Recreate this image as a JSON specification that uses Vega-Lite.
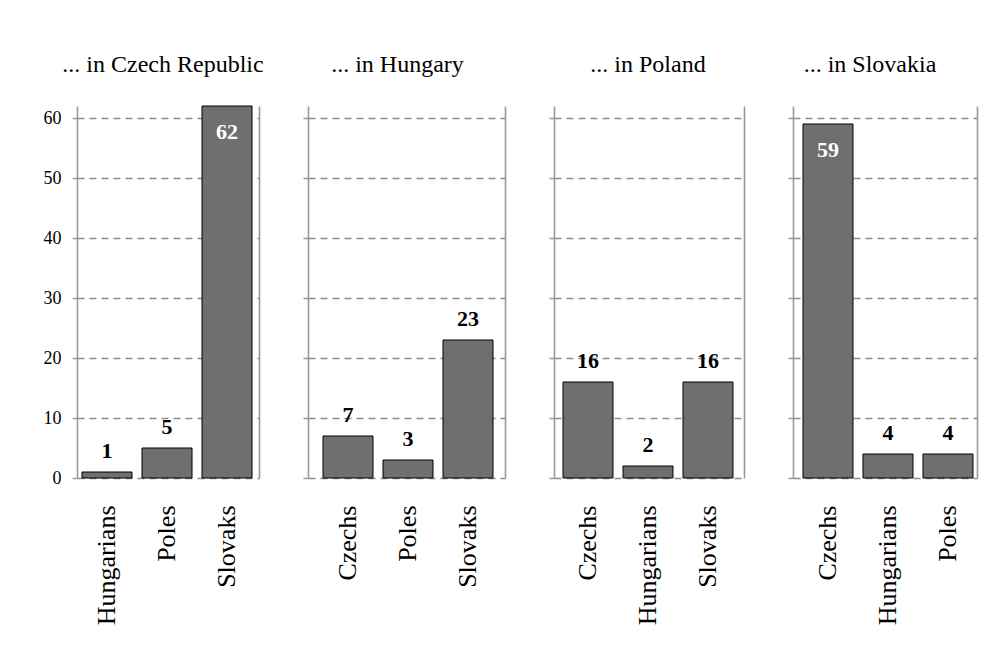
{
  "$schema": "https://vega.github.io/schema/vega-lite/v6.json",
  "padding": {"left": 43, "top": 52, "right": 5, "bottom": 5},
  "background": "white",
  "config": {
    "font": "Liberation Serif",
    "view": {"stroke": null},
    "title": {"font": "Liberation Serif", "fontSize": 24, "fontWeight": "normal", "color": "#000", "anchor": "middle", "baseline": "alphabetic", "offset": 29}
  },
  "data": {"values": [
    {"country": "Czech Republic", "group": "Hungarians", "value": 1},
    {"country": "Czech Republic", "group": "Poles", "value": 5},
    {"country": "Czech Republic", "group": "Slovaks", "value": 62},
    {"country": "Hungary", "group": "Czechs", "value": 7},
    {"country": "Hungary", "group": "Poles", "value": 3},
    {"country": "Hungary", "group": "Slovaks", "value": 23},
    {"country": "Poland", "group": "Czechs", "value": 16},
    {"country": "Poland", "group": "Hungarians", "value": 2},
    {"country": "Poland", "group": "Slovaks", "value": 16},
    {"country": "Slovakia", "group": "Czechs", "value": 59},
    {"country": "Slovakia", "group": "Hungarians", "value": 4},
    {"country": "Slovakia", "group": "Poles", "value": 4}
  ]},
  "bounds": "flush",
  "spacing": 49,
  "resolve": {"scale": {"x": "independent", "y": "independent"}},
  "hconcat": [
    {
      "width": 182, "height": 372,
      "title": {"text": "... in Czech Republic", "dx": -5},
      "transform": [{"filter": "datum.country === 'Czech Republic'"}],
      "encoding": {
        "x": {"field": "group", "type": "nominal", "scale": {"paddingInner": 0.16667, "paddingOuter": 0.1, "align": 0.4167},
          "axis": {"orient": "bottom", "domain": false, "ticks": false, "grid": false, "labelAngle": -90, "labelFont": "Liberation Serif", "labelFontSize": 26, "labelColor": "#000", "labelPadding": 27, "title": null}}
      },
      "layer": [
        {"mark": {"type": "bar", "fill": "#6f6f6f", "stroke": "#000", "strokeWidth": 1},
         "encoding": {"y": {"field": "value", "type": "quantitative", "scale": {"domain": [0, 62], "nice": false},
           "axis": {"orient": "left", "values": [0, 10, 20, 30, 40, 50, 60], "domainColor": "#999", "domainWidth": 1.6, "tickColor": "#999", "tickSize": 5, "tickWidth": 1.5, "labelFont": "Liberation Serif", "labelFontSize": 18, "labelColor": "#000", "labelPadding": 11, "grid": true, "gridColor": "#8c8c8c", "gridDash": [7, 5], "gridWidth": 1.3, "title": null}}}},
        {"transform": [{"filter": "datum.value < 40"}],
         "mark": {"type": "text", "baseline": "alphabetic", "dy": -14, "fontWeight": "bold", "fontSize": 22, "font": "Liberation Serif", "fill": "#000"},
         "encoding": {"y": {"field": "value", "type": "quantitative", "axis": null}, "text": {"field": "value", "type": "quantitative"}}},
        {"transform": [{"filter": "datum.value >= 40"}],
         "mark": {"type": "text", "baseline": "alphabetic", "dy": 33, "fontWeight": "bold", "fontSize": 22, "font": "Liberation Serif", "fill": "#fff"},
         "encoding": {"y": {"field": "value", "type": "quantitative", "axis": {"orient": "right", "domain": true, "domainColor": "#999", "domainWidth": 1.6, "ticks": false, "labels": false, "grid": false, "title": null}}, "text": {"field": "value", "type": "quantitative"}}}
      ],
      "resolve": {"axis": {"y": "independent"}}
    },
    {
      "width": 197, "height": 372,
      "title": {"text": "... in Hungary", "dx": -9},
      "transform": [{"filter": "datum.country === 'Hungary'"}],
      "encoding": {
        "x": {"field": "group", "type": "nominal", "scale": {"paddingInner": 0.16667, "paddingOuter": 0.225, "align": 0.5556},
          "axis": {"orient": "bottom", "domain": false, "ticks": false, "grid": false, "labelAngle": -90, "labelFont": "Liberation Serif", "labelFontSize": 26, "labelColor": "#000", "labelPadding": 27, "title": null}}
      },
      "layer": [
        {"mark": {"type": "bar", "fill": "#6f6f6f", "stroke": "#000", "strokeWidth": 1},
         "encoding": {"y": {"field": "value", "type": "quantitative", "scale": {"domain": [0, 62], "nice": false},
           "axis": {"orient": "left", "values": [0, 10, 20, 30, 40, 50, 60], "domainColor": "#999", "domainWidth": 1.6, "tickColor": "#999", "tickSize": 5, "tickWidth": 1.5, "labels": false, "grid": true, "gridColor": "#8c8c8c", "gridDash": [7, 5], "gridWidth": 1.3, "title": null}}}},
        {"transform": [{"filter": "datum.value < 40"}],
         "mark": {"type": "text", "baseline": "alphabetic", "dy": -14, "fontWeight": "bold", "fontSize": 22, "font": "Liberation Serif", "fill": "#000"},
         "encoding": {"y": {"field": "value", "type": "quantitative", "axis": null}, "text": {"field": "value", "type": "quantitative"}}},
        {"transform": [{"filter": "datum.value >= 40"}],
         "mark": {"type": "text", "baseline": "alphabetic", "dy": 33, "fontWeight": "bold", "fontSize": 22, "font": "Liberation Serif", "fill": "#fff"},
         "encoding": {"y": {"field": "value", "type": "quantitative", "axis": {"orient": "right", "domain": true, "domainColor": "#999", "domainWidth": 1.6, "ticks": false, "labels": false, "grid": false, "title": null}}, "text": {"field": "value", "type": "quantitative"}}}
      ],
      "resolve": {"axis": {"y": "independent"}}
    },
    {
      "width": 190, "height": 372,
      "title": {"text": "... in Poland", "dx": -1},
      "transform": [{"filter": "datum.country === 'Poland'"}],
      "encoding": {
        "x": {"field": "group", "type": "nominal", "scale": {"paddingInner": 0.16667, "paddingOuter": 0.16667, "align": 0.45},
          "axis": {"orient": "bottom", "domain": false, "ticks": false, "grid": false, "labelAngle": -90, "labelFont": "Liberation Serif", "labelFontSize": 26, "labelColor": "#000", "labelPadding": 27, "title": null}}
      },
      "layer": [
        {"mark": {"type": "bar", "fill": "#6f6f6f", "stroke": "#000", "strokeWidth": 1},
         "encoding": {"y": {"field": "value", "type": "quantitative", "scale": {"domain": [0, 62], "nice": false},
           "axis": {"orient": "left", "values": [0, 10, 20, 30, 40, 50, 60], "domainColor": "#999", "domainWidth": 1.6, "tickColor": "#999", "tickSize": 5, "tickWidth": 1.5, "labels": false, "grid": true, "gridColor": "#8c8c8c", "gridDash": [7, 5], "gridWidth": 1.3, "title": null}}}},
        {"transform": [{"filter": "datum.value < 40"}],
         "mark": {"type": "text", "baseline": "alphabetic", "dy": -14, "fontWeight": "bold", "fontSize": 22, "font": "Liberation Serif", "fill": "#000"},
         "encoding": {"y": {"field": "value", "type": "quantitative", "axis": null}, "text": {"field": "value", "type": "quantitative"}}},
        {"transform": [{"filter": "datum.value >= 40"}],
         "mark": {"type": "text", "baseline": "alphabetic", "dy": 33, "fontWeight": "bold", "fontSize": 22, "font": "Liberation Serif", "fill": "#fff"},
         "encoding": {"y": {"field": "value", "type": "quantitative", "axis": {"orient": "right", "domain": true, "domainColor": "#999", "domainWidth": 1.6, "ticks": false, "labels": false, "grid": false, "title": null}}, "text": {"field": "value", "type": "quantitative"}}}
      ],
      "resolve": {"axis": {"y": "independent"}}
    },
    {
      "width": 184, "height": 372,
      "title": {"text": "... in Slovakia", "dx": -15},
      "transform": [{"filter": "datum.country === 'Slovakia'"}],
      "encoding": {
        "x": {"field": "group", "type": "nominal", "scale": {"paddingInner": 0.16667, "paddingOuter": 0.1167, "align": 0.714},
          "axis": {"orient": "bottom", "domain": false, "ticks": false, "grid": false, "labelAngle": -90, "labelFont": "Liberation Serif", "labelFontSize": 26, "labelColor": "#000", "labelPadding": 27, "title": null}}
      },
      "layer": [
        {"mark": {"type": "bar", "fill": "#6f6f6f", "stroke": "#000", "strokeWidth": 1},
         "encoding": {"y": {"field": "value", "type": "quantitative", "scale": {"domain": [0, 62], "nice": false},
           "axis": {"orient": "left", "values": [0, 10, 20, 30, 40, 50, 60], "domainColor": "#999", "domainWidth": 1.6, "tickColor": "#999", "tickSize": 5, "tickWidth": 1.5, "labels": false, "grid": true, "gridColor": "#8c8c8c", "gridDash": [7, 5], "gridWidth": 1.3, "title": null}}}},
        {"transform": [{"filter": "datum.value < 40"}],
         "mark": {"type": "text", "baseline": "alphabetic", "dy": -14, "fontWeight": "bold", "fontSize": 22, "font": "Liberation Serif", "fill": "#000"},
         "encoding": {"y": {"field": "value", "type": "quantitative", "axis": null}, "text": {"field": "value", "type": "quantitative"}}},
        {"transform": [{"filter": "datum.value >= 40"}],
         "mark": {"type": "text", "baseline": "alphabetic", "dy": 33, "fontWeight": "bold", "fontSize": 22, "font": "Liberation Serif", "fill": "#fff"},
         "encoding": {"y": {"field": "value", "type": "quantitative", "axis": {"orient": "right", "domain": true, "domainColor": "#999", "domainWidth": 1.6, "ticks": false, "labels": false, "grid": false, "title": null}}, "text": {"field": "value", "type": "quantitative"}}}
      ],
      "resolve": {"axis": {"y": "independent"}}
    }
  ]
}
